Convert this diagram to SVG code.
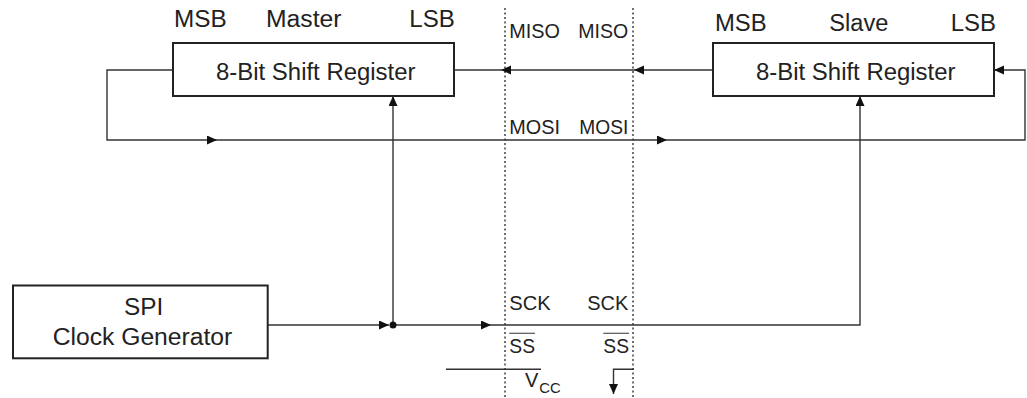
<svg xmlns="http://www.w3.org/2000/svg" width="1027" height="398" viewBox="0 0 1027 398">
  <style>
    .box { fill: #fff; stroke: #222; stroke-width: 2; }
    .big { font-family: "Liberation Sans", Arial, sans-serif; font-size: 23.5px; fill: #222; }
    .sml { font-family: "Liberation Sans", Arial, sans-serif; font-size: 20px; fill: #222; }
    .sub { font-family: "Liberation Sans", Arial, sans-serif; font-size: 14px; fill: #222; }
    .ln { fill: none; stroke: #333; stroke-width: 1.4; }
    .dot { fill: none; stroke: #222; stroke-width: 1.3; stroke-dasharray: 2 2.5; }
  </style>
  <defs>
    <marker id="ah" markerUnits="userSpaceOnUse" markerWidth="11" markerHeight="10" refX="10" refY="4.5" orient="auto">
      <path d="M0,0 L10,4.5 L0,9 z" fill="#111"/>
    </marker>
  </defs>
  <rect width="1027" height="398" fill="#fff"/>

  <g id="boundaries">
    <line class="dot" x1="505" y1="8" x2="505" y2="398"/>
    <line class="dot" x1="633" y1="8" x2="633" y2="398"/>
  </g>

  <g id="connectors">
    <!-- MISO -->
    <line class="ln" x1="712" y1="70" x2="634" y2="70" marker-end="url(#ah)"/>
    <line class="ln" x1="634" y1="70" x2="501" y2="70" marker-end="url(#ah)"/>
    <line class="ln" x1="501" y1="70" x2="454" y2="70"/>
    <!-- MOSI loop -->
    <path class="ln" d="M173,70 H107 V140 H217" marker-end="url(#ah)"/>
    <line class="ln" x1="217" y1="140" x2="667" y2="140" marker-end="url(#ah)"/>
    <path class="ln" d="M667,140 H1025 V70 H994" marker-end="url(#ah)"/>
    <!-- SCK -->
    <line class="ln" x1="268" y1="325" x2="389" y2="325" marker-end="url(#ah)"/>
    <line class="ln" x1="393" y1="325" x2="491" y2="325" marker-end="url(#ah)"/>
    <path class="ln" d="M491,325 H860 V96" marker-end="url(#ah)"/>
    <line class="ln" x1="393" y1="325" x2="393" y2="96" marker-end="url(#ah)"/>
    <circle cx="393" cy="325" r="3.5" fill="#111"/>
    <!-- SS / Vcc -->
    <line class="ln" x1="446" y1="369.3" x2="541" y2="369.3"/>
    <path class="ln" d="M634,369.3 H613.5 V394" marker-end="url(#ah)"/>
  </g>

  <g id="master">
    <rect class="box" x="173" y="43" width="281" height="53"/>
    <text class="big" x="174" y="27" textLength="52.7" lengthAdjust="spacingAndGlyphs">MSB</text>
    <text class="big" x="266" y="27" textLength="75.5" lengthAdjust="spacingAndGlyphs">Master</text>
    <text class="big" x="409.3" y="27" textLength="45.5" lengthAdjust="spacingAndGlyphs">LSB</text>
    <text class="big" x="216" y="80" textLength="199.5" lengthAdjust="spacingAndGlyphs">8-Bit Shift Register</text>
  </g>

  <g id="slave">
    <rect class="box" x="713" y="43" width="281" height="53"/>
    <text class="big" x="715" y="31" textLength="51.7" lengthAdjust="spacingAndGlyphs">MSB</text>
    <text class="big" x="829.3" y="31" textLength="59" lengthAdjust="spacingAndGlyphs">Slave</text>
    <text class="big" x="950.7" y="31" textLength="45.3" lengthAdjust="spacingAndGlyphs">LSB</text>
    <text class="big" x="756" y="80" textLength="199.5" lengthAdjust="spacingAndGlyphs">8-Bit Shift Register</text>
  </g>

  <g id="clock-generator">
    <rect class="box" x="13" y="285.5" width="254.7" height="72.8"/>
    <text class="big" x="124" y="315" textLength="39.3" lengthAdjust="spacingAndGlyphs">SPI</text>
    <text class="big" x="52.7" y="345" textLength="179.6" lengthAdjust="spacingAndGlyphs">Clock Generator</text>
  </g>

  <g id="signal-labels">
    <text class="sml" x="509.3" y="38" textLength="50.7" lengthAdjust="spacingAndGlyphs">MISO</text>
    <text class="sml" x="578.3" y="38" textLength="50" lengthAdjust="spacingAndGlyphs">MISO</text>
    <text class="sml" x="509.3" y="134" textLength="50.7" lengthAdjust="spacingAndGlyphs">MOSI</text>
    <text class="sml" x="579.3" y="134" textLength="49" lengthAdjust="spacingAndGlyphs">MOSI</text>
    <text class="sml" x="509.3" y="309.5" textLength="41.4" lengthAdjust="spacingAndGlyphs">SCK</text>
    <text class="sml" x="587.3" y="309.5" textLength="41" lengthAdjust="spacingAndGlyphs">SCK</text>
    <text class="sml" x="509.3" y="353.3" textLength="25.7" lengthAdjust="spacingAndGlyphs">SS</text>
    <line x1="509.3" y1="333.3" x2="535" y2="333.3" stroke="#555" stroke-width="1.2"/>
    <text class="sml" x="603.3" y="353.3" textLength="25.7" lengthAdjust="spacingAndGlyphs">SS</text>
    <line x1="603.3" y1="333.3" x2="629" y2="333.3" stroke="#555" stroke-width="1.2"/>
    <text class="sml" x="525" y="386.7">V<tspan class="sub" x="539.3" y="393.3" textLength="21.4" lengthAdjust="spacingAndGlyphs">CC</tspan></text>
  </g>
</svg>
